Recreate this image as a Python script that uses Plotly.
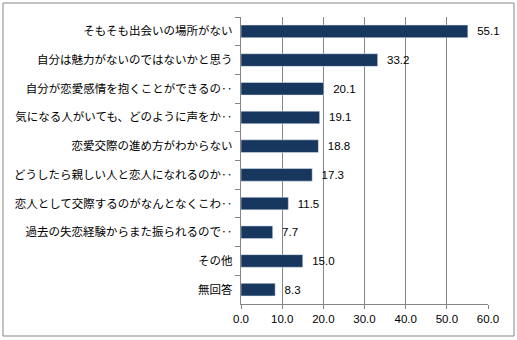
import plotly.graph_objects as go

categories = [
    "そもそも出会いの場所がない",
    "自分は魅力がないのではないかと思う",
    "自分が恋愛感情を抱くことができるの‥",
    "気になる人がいても、どのように声をか‥",
    "恋愛交際の進め方がわからない",
    "どうしたら親しい人と恋人になれるのか‥",
    "恋人として交際するのがなんとなくこわ‥",
    "過去の失恋経験からまた振られるので‥",
    "その他",
    "無回答",
]
values = [55.1, 33.2, 20.1, 19.1, 18.8, 17.3, 11.5, 7.7, 15.0, 8.3]
x_ticks = [0, 10, 20, 30, 40, 50, 60]

W, H = 517, 340
ml, mr, mt, mb = 241, 29, 17, 36
pw, ph = W - ml - mr, H - mt - mb

fig = go.Figure(go.Bar(
    x=values, y=categories, orientation="h",
    marker=dict(color="#17375E"),
    text=[f"  {v:.1f}" for v in values], textposition="outside",
    textfont=dict(family="Liberation Sans, Arial", size=11.5, color="#000000"),
    cliponaxis=False,
))

fig.update_layout(
    width=W, height=H, margin=dict(l=ml, r=mr, t=mt, b=mb),
    plot_bgcolor="white", paper_bgcolor="white", showlegend=False,
    bargap=0.56,
    xaxis=dict(range=[0, 60], tickvals=x_ticks, ticktext=[f"{v:.1f}" for v in x_ticks],
               showgrid=True, gridcolor="#868686", gridwidth=1, automargin=False,
               showline=True, linecolor="#868686", ticks="outside", ticklen=4,
               tickcolor="#868686", zeroline=False,
               tickfont=dict(family="Liberation Sans, Arial", size=11.5, color="#000000")),
    yaxis=dict(autorange="reversed", showline=True, linecolor="#868686", automargin=False,
               ticks="outside", ticklen=5, tickcolor="#868686", tickson="boundaries",
               tickfont=dict(family="Noto Sans CJK JP", size=11.5, color="#000000"),
               ticksuffix="  "),
    shapes=[dict(type="rect", xref="paper", yref="paper",
                 x0=(3 - ml) / pw, x1=(514 - ml) / pw,
                 y0=(H - mb - 336) / ph, y1=(H - mb - 3) / ph,
                 line=dict(color="#868686", width=1), fillcolor="rgba(0,0,0,0)")],
)

fig.write_html("out.html")
